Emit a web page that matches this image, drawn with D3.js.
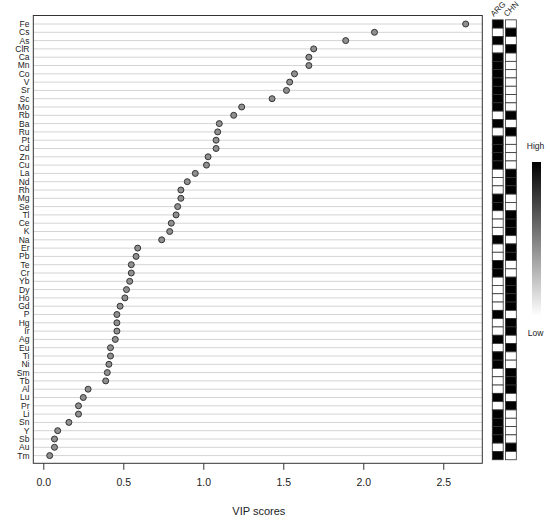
<!DOCTYPE html>
<html>
<head>
<meta charset="utf-8">
<script src="https://cdn.jsdelivr.net/npm/d3@7"></script>
<style>
  html, body { margin: 0; padding: 0; background: #fff; }
  svg { display: block; font-family: "Liberation Sans", Arial, sans-serif; }
</style>
</head>
<body>
<svg id="chart" width="550" height="521"></svg>
<script>
const features = ["Fe","Cs","As","ClR","Ca","Mn","Co","V","Sr","Sc","Mo","Rb","Ba","Ru","Pt","Cd","Zn","Cu","La","Nd","Rh","Mg","Se","Tl","Ce","K","Na","Er","Pb","Te","Cr","Yb","Dy","Ho","Gd","P","Hg","Ir","Ag","Eu","Ti","Ni","Sm","Tb","Al","Lu","Pr","Li","Sn","Y","Sb","Au","Tm"];
const vipScores = [2.64,2.07,1.89,1.69,1.66,1.66,1.57,1.54,1.52,1.43,1.24,1.19,1.10,1.09,1.08,1.08,1.03,1.02,0.95,0.90,0.86,0.86,0.84,0.83,0.80,0.79,0.74,0.59,0.58,0.55,0.55,0.54,0.52,0.51,0.48,0.46,0.46,0.46,0.45,0.42,0.42,0.41,0.40,0.39,0.28,0.25,0.22,0.22,0.16,0.09,0.07,0.07,0.04];
const groups = ["ARG","CHN"];
const argLevel = [1,0,1,0,1,1,1,1,1,1,1,0,1,0,1,1,1,1,0,0,0,1,1,0,0,0,1,0,0,1,1,0,0,0,0,1,0,0,1,0,1,1,0,0,0,1,0,1,1,1,1,0,1];
const chnLevel = [0,1,0,1,0,0,0,0,0,0,0,1,0,1,0,0,0,0,1,1,1,0,0,1,1,1,0,1,1,0,0,1,1,1,1,0,1,1,0,1,0,0,1,1,1,0,1,0,0,0,0,1,0];
const xTicks = [0, 0.5, 1.0, 1.5, 2.0, 2.5];
const legendLabels = ["High", "Low"];

const svg = d3.select("#chart");
const box = {left: 33.3, right: 482.3, top: 15.5, bottom: 463.3};

const x = d3.scaleLinear().domain([-0.0625, 2.744]).range([box.left, box.right]);
const y = d3.scalePoint().domain(features).range([24, 455.6]);
const rowH = y.step();

// grid lines
svg.append("g").selectAll("line").data(features).join("line")
  .attr("x1", box.left).attr("x2", box.right)
  .attr("y1", d => y(d)).attr("y2", d => y(d))
  .attr("stroke", "#d4d4d4").attr("stroke-width", 1);

// box
svg.append("rect")
  .attr("x", box.left).attr("y", box.top)
  .attr("width", box.right - box.left).attr("height", box.bottom - box.top)
  .attr("fill", "none").attr("stroke", "#333").attr("stroke-width", 1);

// points
svg.append("g").selectAll("circle").data(features).join("circle")
  .attr("cx", (d, i) => x(vipScores[i])).attr("cy", d => y(d))
  .attr("r", 3)
  .attr("fill", "#8f8f8f").attr("stroke", "#333").attr("stroke-width", 1);

// y labels
svg.append("g").selectAll("text").data(features).join("text")
  .attr("x", 29.5).attr("y", d => y(d))
  .attr("dy", "0.35em")
  .attr("text-anchor", "end")
  .attr("font-size", "8.5px").attr("fill", "#222")
  .text(d => d);

// x axis
const xAxis = d3.axisBottom(x).tickValues(xTicks).tickFormat(d3.format(".1f")).tickSize(6.5).tickPadding(9);
const gx = svg.append("g").attr("transform", `translate(0,${box.bottom})`).call(xAxis);
gx.select(".domain").remove();
gx.selectAll(".tick line").attr("stroke", "#333");
gx.selectAll(".tick text").attr("font-size", "10.5px").attr("fill", "#222")
  .attr("font-family", "Liberation Sans, Arial, sans-serif");

svg.append("text")
  .attr("x", (box.left + box.right) / 2 + 1).attr("y", 515)
  .attr("text-anchor", "middle").attr("font-size", "11px").attr("fill", "#222")
  .text("VIP scores");

// heatmap
const colX = d3.scaleBand().domain(groups).range([492.3, 516.3]).paddingInner(0.17);
const color = d3.scaleLinear().domain([0, 1]).range(["#ffffff", "#000000"]);
const levels = {ARG: argLevel, CHN: chnLevel};
groups.forEach(g => {
  svg.append("g").selectAll("rect").data(features).join("rect")
    .attr("x", colX(g)).attr("width", colX.bandwidth())
    .attr("y", d => y(d) - rowH / 2).attr("height", rowH)
    .attr("fill", (d, i) => color(levels[g][i]))
    .attr("stroke", "#333").attr("stroke-width", 0.8);
  svg.append("text")
    .attr("transform", `translate(${colX(g) + 1.5},${17}) rotate(-45)`)
    .attr("font-size", "8px").attr("fill", "#222")
    .text(g);
});

// legend gradient
const defs = svg.append("defs");
const grad = defs.append("linearGradient").attr("id", "lg").attr("x1", 0).attr("x2", 0).attr("y1", 0).attr("y2", 1);
grad.append("stop").attr("offset", "0%").attr("stop-color", "#000");
grad.append("stop").attr("offset", "100%").attr("stop-color", "#fff");
svg.append("rect").attr("x", 532).attr("y", 162).attr("width", 9).attr("height", 154).attr("fill", "url(#lg)");
svg.append("text").attr("x", 535.5).attr("y", 149).attr("text-anchor", "middle")
  .attr("font-size", "8.5px").attr("fill", "#222").text(legendLabels[0]);
svg.append("text").attr("x", 535.5).attr("y", 336).attr("text-anchor", "middle")
  .attr("font-size", "8.5px").attr("fill", "#222").text(legendLabels[1]);
</script>
</body>
</html>
